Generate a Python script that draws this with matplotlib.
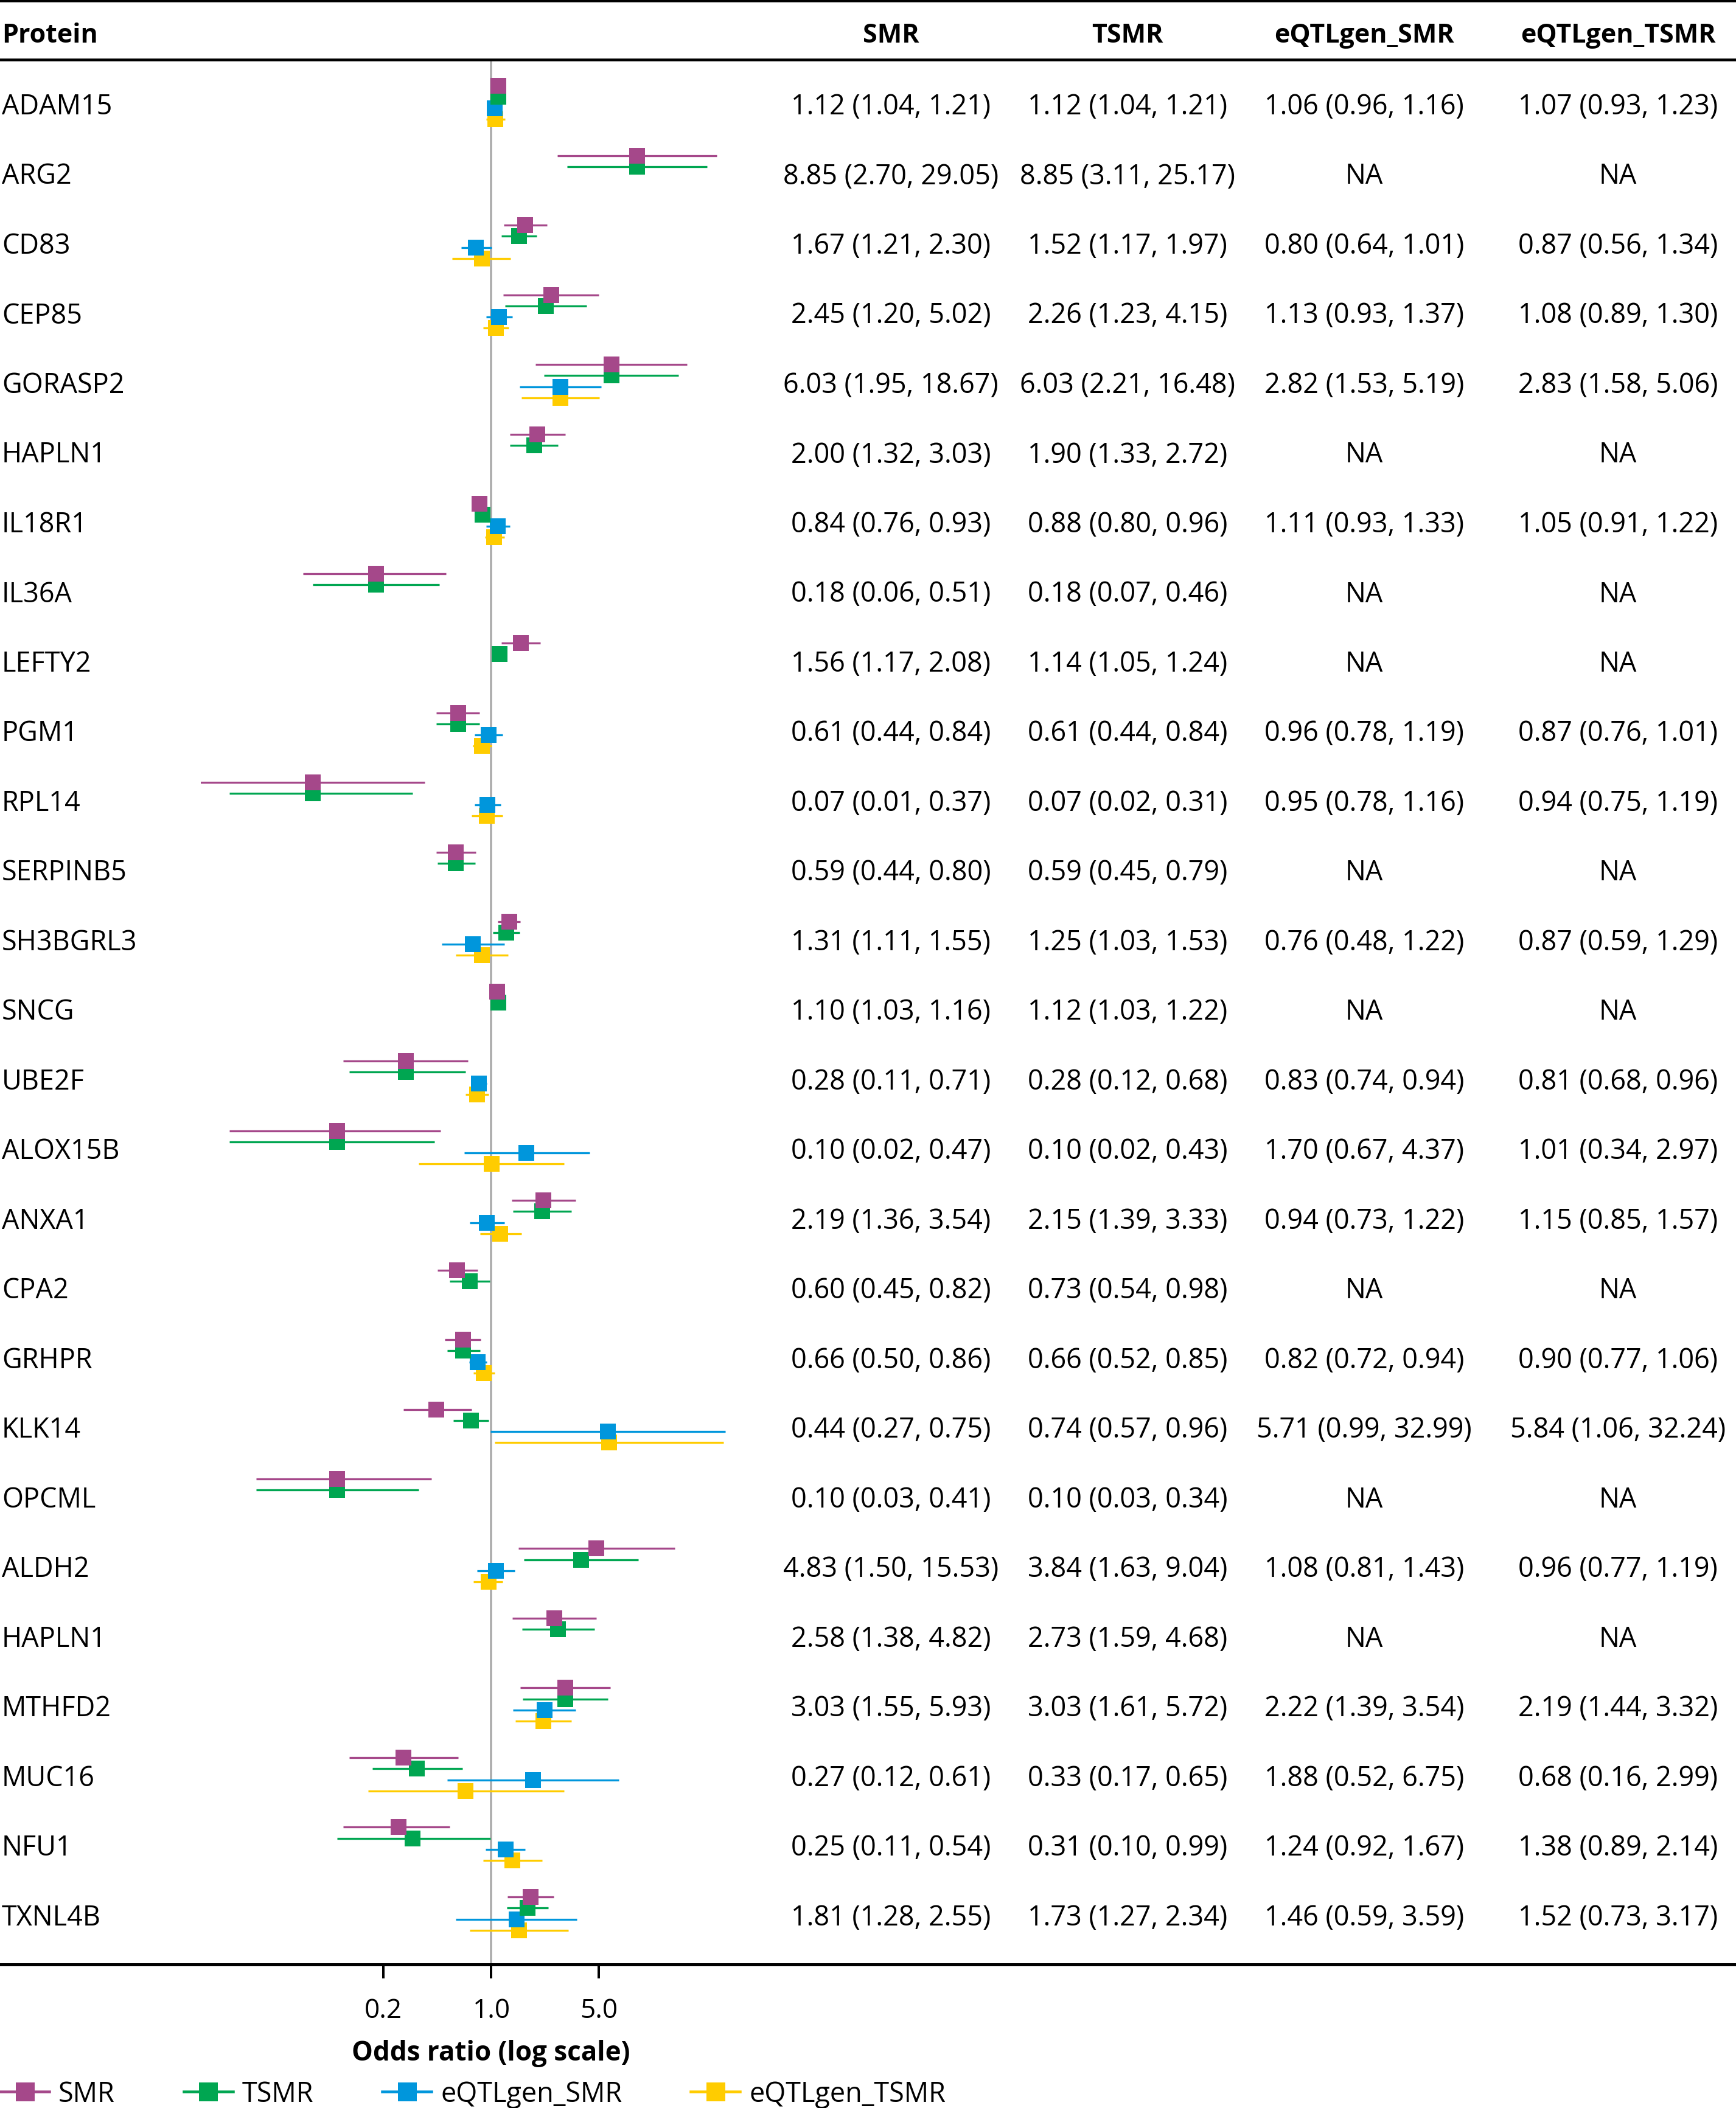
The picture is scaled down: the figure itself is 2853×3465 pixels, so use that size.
import numpy as np
import matplotlib
matplotlib.use("Agg")
import matplotlib.pyplot as plt
from matplotlib.lines import Line2D
import matplotlib.transforms as mtransforms

plt.rcParams['font.family'] = ['Open Sans', 'DejaVu Sans']

# ---------------- data ----------------
proteins = ["ADAM15", "ARG2", "CD83", "CEP85", "GORASP2", "HAPLN1", "IL18R1", "IL36A",
            "LEFTY2", "PGM1", "RPL14", "SERPINB5", "SH3BGRL3", "SNCG", "UBE2F", "ALOX15B",
            "ANXA1", "CPA2", "GRHPR", "KLK14", "OPCML", "ALDH2", "HAPLN1", "MTHFD2",
            "MUC16", "NFU1", "TXNL4B"]
NA = np.nan
smr_or = [1.12, 8.85, 1.67, 2.45, 6.03, 2.00, 0.84, 0.18, 1.56, 0.61, 0.07, 0.59, 1.31, 1.10,
          0.28, 0.10, 2.19, 0.60, 0.66, 0.44, 0.10, 4.83, 2.58, 3.03, 0.27, 0.25, 1.81]
smr_lo = [1.04, 2.70, 1.21, 1.20, 1.95, 1.32, 0.76, 0.06, 1.17, 0.44, 0.01, 0.44, 1.11, 1.03,
          0.11, 0.02, 1.36, 0.45, 0.50, 0.27, 0.03, 1.50, 1.38, 1.55, 0.12, 0.11, 1.28]
smr_hi = [1.21, 29.05, 2.30, 5.02, 18.67, 3.03, 0.93, 0.51, 2.08, 0.84, 0.37, 0.80, 1.55, 1.16,
          0.71, 0.47, 3.54, 0.82, 0.86, 0.75, 0.41, 15.53, 4.82, 5.93, 0.61, 0.54, 2.55]
tsmr_or = [1.12, 8.85, 1.52, 2.26, 6.03, 1.90, 0.88, 0.18, 1.14, 0.61, 0.07, 0.59, 1.25, 1.12,
           0.28, 0.10, 2.15, 0.73, 0.66, 0.74, 0.10, 3.84, 2.73, 3.03, 0.33, 0.31, 1.73]
tsmr_lo = [1.04, 3.11, 1.17, 1.23, 2.21, 1.33, 0.80, 0.07, 1.05, 0.44, 0.02, 0.45, 1.03, 1.03,
           0.12, 0.02, 1.39, 0.54, 0.52, 0.57, 0.03, 1.63, 1.59, 1.61, 0.17, 0.10, 1.27]
tsmr_hi = [1.21, 25.17, 1.97, 4.15, 16.48, 2.72, 0.96, 0.46, 1.24, 0.84, 0.31, 0.79, 1.53, 1.22,
           0.68, 0.43, 3.33, 0.98, 0.85, 0.96, 0.34, 9.04, 4.68, 5.72, 0.65, 0.99, 2.34]
esmr_or = [1.06, NA, 0.80, 1.13, 2.82, NA, 1.11, NA, NA, 0.96, 0.95, NA, 0.76, NA,
           0.83, 1.70, 0.94, NA, 0.82, 5.71, NA, 1.08, NA, 2.22, 1.88, 1.24, 1.46]
esmr_lo = [0.96, NA, 0.64, 0.93, 1.53, NA, 0.93, NA, NA, 0.78, 0.78, NA, 0.48, NA,
           0.74, 0.67, 0.73, NA, 0.72, 0.99, NA, 0.81, NA, 1.39, 0.52, 0.92, 0.59]
esmr_hi = [1.16, NA, 1.01, 1.37, 5.19, NA, 1.33, NA, NA, 1.19, 1.16, NA, 1.22, NA,
           0.94, 4.37, 1.22, NA, 0.94, 32.99, NA, 1.43, NA, 3.54, 6.75, 1.67, 3.59]
etsmr_or = [1.07, NA, 0.87, 1.08, 2.83, NA, 1.05, NA, NA, 0.87, 0.94, NA, 0.87, NA,
            0.81, 1.01, 1.15, NA, 0.90, 5.84, NA, 0.96, NA, 2.19, 0.68, 1.38, 1.52]
etsmr_lo = [0.93, NA, 0.56, 0.89, 1.58, NA, 0.91, NA, NA, 0.76, 0.75, NA, 0.59, NA,
            0.68, 0.34, 0.85, NA, 0.77, 1.06, NA, 0.77, NA, 1.44, 0.16, 0.89, 0.73]
etsmr_hi = [1.23, NA, 1.34, 1.30, 5.06, NA, 1.22, NA, NA, 1.01, 1.19, NA, 1.29, NA,
            0.96, 2.97, 1.57, NA, 1.06, 32.24, NA, 1.19, NA, 3.32, 2.99, 2.14, 3.17]

series_names = ["SMR", "TSMR", "eQTLgen_SMR", "eQTLgen_TSMR"]
series_colors = ["#A5488A", "#00A651", "#0096DC", "#FFCC00"]
series_data = [(smr_or, smr_lo, smr_hi), (tsmr_or, tsmr_lo, tsmr_hi),
               (esmr_or, esmr_lo, esmr_hi), (etsmr_or, etsmr_lo, etsmr_hi)]
header_first = "Protein"
x_ticks = [0.2, 1.0, 5.0]
x_ticklabels = ["0.2", "1.0", "5.0"]
x_label = "Odds ratio (log scale)"

# ---------------- layout (pixels) ----------------
W_PX, H_PX, DPI = 2853, 3466, 200
PT = 72.0 / DPI                 # points per pixel
FS_BODY = 45 * PT
FS_HEAD = 43 * PT
FS_XLAB = 44 * PT
FS_TICK = 44 * PT

def fx(px):
    return px / W_PX

def fy(py):
    return 1.0 - py / H_PX

ROW0, ROW_STEP = 172.0, 114.5
BASE_OFF = 16.0                 # baseline below row centre
TOP_LINE, HEAD_LINE, BOT_LINE = 2.0, 99.0, 3230.0
HEAD_BASE = 70.0
TICK_BASE, XLAB_BASE, LEG_Y = 3317.0, 3387.0, 3443.0
AX_L, AX_R = 330.0, 1240.0
ONE_PX, PX_PER_LN = 807.0, 110.0
TEXT_X0 = 3.0
col_centers = [1464, 1853, 2242, 2659]
offsets_px = [-30.0, -11.7, 6.6, 24.9]

fig = plt.figure(figsize=(W_PX / DPI, H_PX / DPI), dpi=DPI)
fig.patch.set_facecolor("white")

n = len(proteins)
ax = fig.add_axes([fx(AX_L), fy(BOT_LINE), fx(AX_R) - fx(AX_L), (BOT_LINE - HEAD_LINE) / H_PX])
ax.set_xscale("log")
ax.set_xlim(np.exp(-(ONE_PX - AX_L) / PX_PER_LN), np.exp((AX_R - ONE_PX) / PX_PER_LN))
y_top = -(ROW0 - HEAD_LINE) / ROW_STEP
y_bot = (BOT_LINE - ROW0) / ROW_STEP
ax.set_ylim(y_bot, y_top)
ax.patch.set_visible(False)
for s in ax.spines.values():
    s.set_visible(False)
ax.set_yticks([])
ax.xaxis.set_minor_locator(matplotlib.ticker.NullLocator())
ax.set_xticks(x_ticks)
ax.set_xticklabels([])
ax.tick_params(axis="x", length=23 * PT, width=4 * PT, color="black", direction="out")

tick_tr = mtransforms.blended_transform_factory(ax.transData, fig.transFigure)
for v, lab in zip(x_ticks, x_ticklabels):
    fig.text(v, fy(TICK_BASE), lab, transform=tick_tr, ha="center", va="baseline",
             fontsize=FS_TICK)

ax.axvline(1.0, color="#AAAAAA", lw=3.5 * PT, zorder=1)

ypos = np.arange(n)
for k in [3, 2, 1, 0]:
    orv, lo, hi = (np.array(a, dtype=float) for a in series_data[k])
    yy = ypos + offsets_px[k] / ROW_STEP
    m = ~np.isnan(orv)
    z = 10 + (3 - k) * 2
    ax.hlines(yy[m], lo[m], hi[m], color=series_colors[k], lw=3.3 * PT, zorder=z)
    ax.plot(orv[m], yy[m], linestyle="none", marker="s", markersize=27 * PT,
            markerfacecolor=series_colors[k], markeredgewidth=0, zorder=z + 1)

# ---------------- table text ----------------
tr = mtransforms.blended_transform_factory(fig.transFigure, ax.transData)
fig.text(fx(TEXT_X0), fy(HEAD_BASE), header_first, ha="left", va="baseline",
         fontsize=FS_HEAD, fontweight="bold")
for c, name in zip(col_centers, series_names):
    fig.text(fx(c), fy(HEAD_BASE), name, ha="center", va="baseline",
             fontsize=FS_HEAD, fontweight="bold")

def fmt(o, l, h):
    if np.isnan(o):
        return "NA"
    return f"{o:.2f} ({l:.2f}, {h:.2f})"

boff = BASE_OFF / ROW_STEP
for i, p in enumerate(proteins):
    fig.text(fx(TEXT_X0), i + boff, p, transform=tr, ha="left", va="baseline", fontsize=FS_BODY)
    for c, (orv, lo, hi) in zip(col_centers, series_data):
        fig.text(fx(c), i + boff, fmt(orv[i], lo[i], hi[i]), transform=tr,
                 ha="center", va="baseline", fontsize=FS_BODY)

# ---------------- rules ----------------
for yl, w in [(TOP_LINE, 4.5), (HEAD_LINE, 4.5), (BOT_LINE, 5.0)]:
    fig.add_artist(Line2D([0, 1], [fy(yl), fy(yl)], transform=fig.transFigure,
                          color="black", lw=w * PT))

fig.text(fx(ONE_PX), fy(XLAB_BASE), x_label, ha="center", va="baseline",
         fontsize=FS_XLAB, fontweight="bold")

# ---------------- legend ----------------
handles = [Line2D([], [], color=c, marker="s", markersize=31 * PT, lw=4.5 * PT,
                  markeredgewidth=0) for c in series_colors]
fig.legend(handles, series_names, loc="center left", bbox_to_anchor=(0, fy(LEG_Y)),
           ncol=4, frameon=False, fontsize=FS_BODY, handlelength=81 / 45,
           handletextpad=15 / 45, columnspacing=113 / 45, borderpad=0, borderaxespad=0,
           numpoints=1)

fig.savefig("out.png", dpi=DPI, facecolor="white")
